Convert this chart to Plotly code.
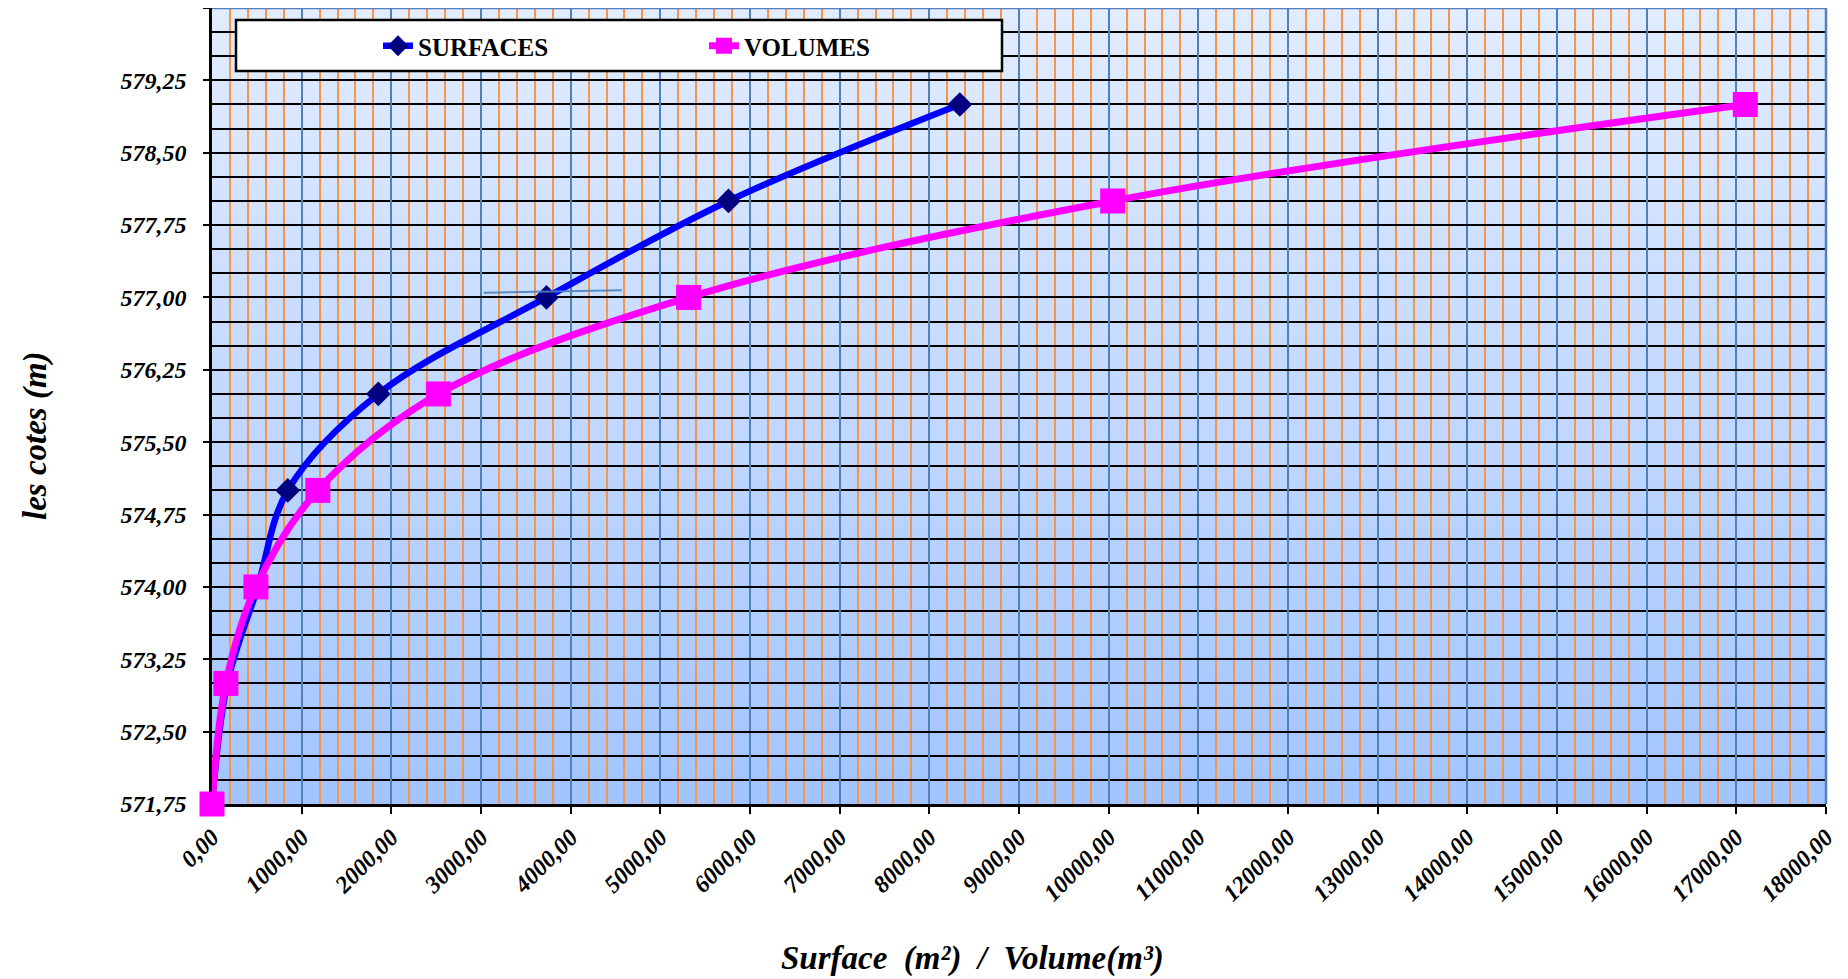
import plotly.graph_objects as go

# ---- data ----
cotes = [571.75, 573.0, 574.0, 575.0, 576.0, 577.0, 578.0, 579.0]
surfaces = [0, 170, 510, 845, 1855, 3730, 5760, 8340]
volumes = [0, 155, 490, 1180, 2525, 5315, 10045, 17100]

# small stray stroke visible in the reference near 577 m
stray_x = [3030, 4570]
stray_y = [577.05, 577.075]

x_range = [0, 18000]
y_range = [571.75, 580.0]

FONT = "Liberation Serif, Times New Roman, serif"

# page body has an 8px margin: figure is drawn from (8, 8)
OFF = 8
W, H = 1848 - OFF, 979 - OFF
L, R, T, B = 212 - OFF, 1826 - OFF, 0, 804 - OFF  # plot area in figure pixels

fig = go.Figure()

fig.add_trace(go.Scatter(
    x=surfaces, y=cotes, name="SURFACES", mode="lines+markers",
    line=dict(color="#0000FF", width=6.5, shape="spline", smoothing=1.0),
    marker=dict(symbol="diamond", size=19, color="#000080"),
    cliponaxis=False,
))
fig.add_trace(go.Scatter(
    x=volumes, y=cotes, name="VOLUMES", mode="lines+markers",
    line=dict(color="#FF00FF", width=7, shape="spline", smoothing=1.0),
    marker=dict(symbol="square", size=25, color="#FF00FF"),
    cliponaxis=False,
))
fig.add_trace(go.Scatter(
    x=stray_x, y=stray_y, mode="lines", showlegend=False,
    line=dict(color="rgba(79,129,189,0.9)", width=2), hoverinfo="skip",
))

def px_x(p):
    return (p - OFF - L) / (R - L)

def px_y(p):
    return (B - (p - OFF)) / (B - T)

# ---- gradient background of the plot area (strips) ----
shapes = []
N = 80
top = (226, 236, 255)
bot = (162, 196, 255)
for i in range(N):
    t = i / (N - 1)  # 0 bottom -> 1 top
    c = tuple(round(bot[k] + (top[k] - bot[k]) * t) for k in range(3))
    shapes.append(dict(type="rect", xref="paper", yref="paper",
                       x0=0, x1=1, y0=i / N, y1=min(1, (i + 1) / N + 0.002),
                       fillcolor="rgb(%d,%d,%d)" % c, line=dict(width=0),
                       layer="below"))

# top and right plot border (blue)
shapes.append(dict(type="line", xref="paper", yref="paper", x0=0, x1=1, y0=1, y1=1,
                   line=dict(color="#4F81BD", width=2.5), layer="above"))
shapes.append(dict(type="line", xref="paper", yref="paper", x0=1, x1=1, y0=0, y1=1,
                   line=dict(color="#4F81BD", width=2.5), layer="above"))

# legend box
shapes.append(dict(type="rect", xref="paper", yref="paper",
                   x0=px_x(236), x1=px_x(1002), y0=px_y(71), y1=px_y(20),
                   fillcolor="white", line=dict(color="black", width=2.5),
                   layer="above"))

tickfont = dict(family=FONT, size=24, color="black", weight="bold", style="italic")
titlefont = dict(family=FONT, size=33, color="black", weight="bold", style="italic")

fig.update_layout(
    width=W, height=H,
    margin=dict(l=L, r=W - R, t=T, b=H - B, pad=0),
    paper_bgcolor="white",
    plot_bgcolor="rgba(0,0,0,0)",
    separators=", ",
    shapes=shapes,
    showlegend=True,
    legend=dict(
        orientation="h", x=px_x(378), xanchor="left", y=px_y(46), yanchor="middle",
        bgcolor="rgba(0,0,0,0)", borderwidth=0,
        font=dict(family=FONT, size=25, color="black", weight="bold"),
        entrywidth=281, entrywidthmode="pixels",
    ),
    annotations=[
        dict(text="les cotes (m)", xref="paper", yref="paper",
             x=px_x(35), y=px_y(436), xanchor="center", yanchor="middle",
             textangle=-90, showarrow=False, font=titlefont),
        dict(text="Surface  (m²)  /  Volume(m³)", xref="paper", yref="paper",
             x=px_x(972), y=px_y(958), xanchor="center", yanchor="middle",
             showarrow=False, font=titlefont),
    ],
)

fig.update_xaxes(
    range=x_range, tick0=0, dtick=1000, tickformat=".2f", tickangle=-45,
    showgrid=True, gridcolor="#4F81BD", gridwidth=1.8,
    minor=dict(dtick=200, showgrid=True, gridcolor="#F79646", gridwidth=1.8),
    ticks="outside", ticklen=7, tickwidth=2, tickcolor="black",
    showline=True, linecolor="black", linewidth=2.5, mirror=False,
    zeroline=False, tickfont=tickfont, layer="below traces",
)
fig.update_yaxes(
    range=y_range, tick0=571.75, dtick=0.75, tickformat=".2f",
    showgrid=True, gridcolor="black", gridwidth=2,
    minor=dict(dtick=0.25, tick0=571.75, showgrid=True, gridcolor="black", gridwidth=2),
    ticks="outside", ticklen=6, tickwidth=2, tickcolor="black",
    showline=True, linecolor="black", linewidth=2.5, mirror=False,
    zeroline=False, tickfont=tickfont, ticklabelstandoff=12, layer="below traces",
)

fig.write_html("out.html")
